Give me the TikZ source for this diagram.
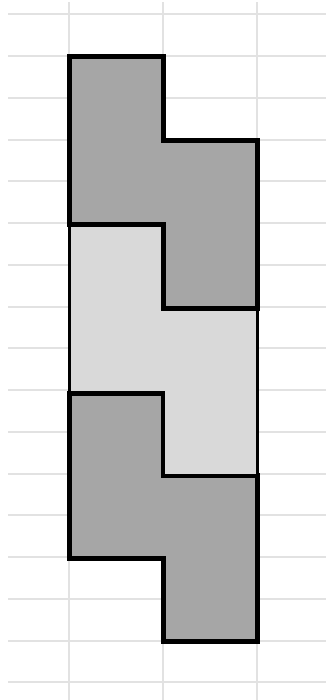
\documentclass[tikz,border=0pt]{standalone}
\definecolor{gridgray}{HTML}{E2E2E2}
\definecolor{darkfill}{HTML}{A6A6A6}
\definecolor{lightfill}{HTML}{D9D9D9}
\tikzset{
  gridline/.style={draw=gridgray, line width=2pt},
  darkpiece/.style={fill=darkfill, draw=black, line width=5pt, line join=miter},
  lightpiece/.style={fill=lightfill, draw=black, line width=3pt, line join=miter}
}
\begin{document}
\begin{tikzpicture}[x=1pt,y=-1pt]
\useasboundingbox (0,0) rectangle (326,700);
% grid
\foreach \k in {0,...,16} {
  \draw[gridline] (8,{14.3+41.76*\k}) -- (326,{14.3+41.76*\k});
}
\foreach \x in {69,163,257} {
  \draw[gridline] (\x,2) -- (\x,700);
}
% bottom dark piece
\draw[darkpiece] (69,393) -- (163,393) -- (163,475.6) -- (257,475.6) -- (257,641.7) -- (163,641.7) -- (163,558.1) -- (69,558.1) -- cycle;
% light piece
\draw[lightpiece] (69,225) -- (163,225) -- (163,308.6) -- (257,308.6) -- (257,475.6) -- (163,475.6) -- (163,392) -- (69,392) -- cycle;
% top dark piece
\draw[darkpiece] (69,57) -- (163,57) -- (163,141) -- (257,141) -- (257,308.6) -- (163,308.6) -- (163,225) -- (69,225) -- cycle;
\end{tikzpicture}
\end{document}
